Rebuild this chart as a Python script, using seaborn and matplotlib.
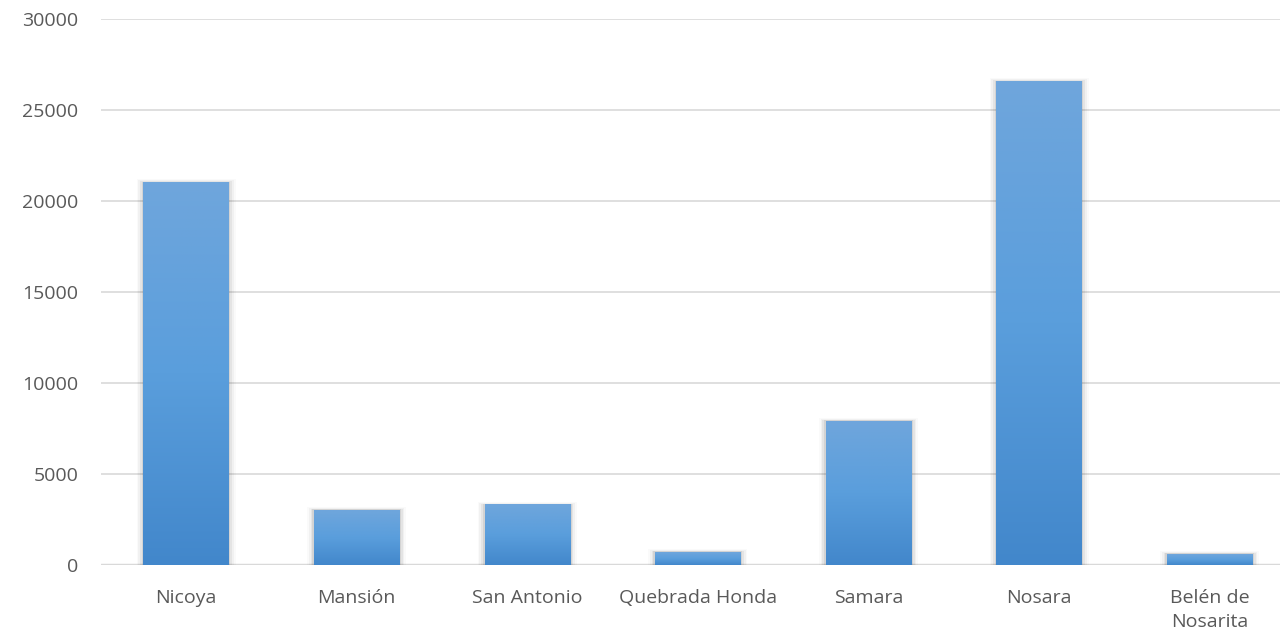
import numpy as np
import pandas as pd
import matplotlib
matplotlib.use('Agg')
import matplotlib.pyplot as plt
import seaborn as sns
from matplotlib.colors import LinearSegmentedColormap

# datos
distritos = ['Nicoya', 'Mansión', 'San Antonio', 'Quebrada Honda', 'Samara', 'Nosara', 'Belén de\nNosarita']
poblacion = [21040, 3020, 3300, 710, 7910, 26590, 600]
yticks = [0, 5000, 10000, 15000, 20000, 25000, 30000]

df = pd.DataFrame({'distrito': distritos, 'poblacion': poblacion})

sns.set_style('white')
plt.rcParams['font.family'] = ['Open Sans', 'DejaVu Sans']

fig = plt.figure(figsize=(12.8, 6.4), dpi=100)
ax = fig.add_axes([0.0787, 0.117, 0.933, 0.853])

sns.barplot(data=df, x='distrito', y='poblacion', color='#5b9bd5', width=0.5, ax=ax, zorder=3)

ax.set_ylim(0, 30000)
ax.set_xlim(-0.5, len(distritos) - 0.5)
ax.set_yticks(yticks)
ax.set_yticklabels([str(v) for v in yticks])
ax.yaxis.grid(True, color='#d9d9d9', linewidth=1.2, zorder=0)
ax.axhline(0, color='#d9d9d9', linewidth=2.5, zorder=2)
for s in ax.spines.values():
    s.set_visible(False)
ax.set_xlabel('')
ax.set_ylabel('')
ax.tick_params(axis='both', length=0, labelsize=14, labelcolor='#595959')
ax.tick_params(axis='y', pad=16)
ax.tick_params(axis='x', pad=17)
for t in ax.get_xticklabels():
    t.set_linespacing(1.45)

# degradado en las barras y sombra suave
cmap = LinearSegmentedColormap.from_list('azul', ['#4287cb', '#5a9edc', '#6fa6dc'])
grad = np.linspace(0, 1, 256).reshape(-1, 1)
for p in list(ax.patches):
    x0, y0 = p.get_x(), p.get_y()
    w, h = p.get_width(), p.get_height()
    for k, a in enumerate([0.07, 0.05, 0.035, 0.02]):
        d = 0.01 * (k + 1)
        ax.add_patch(plt.Rectangle((x0 - d, y0), w + 2 * d, h + 40 * (k + 1),
                                   color='#000000', alpha=a, lw=0, zorder=2.5))
    p.set_facecolor('none')
    p.set_edgecolor('none')
    ax.imshow(grad, extent=[x0, x0 + w, y0, y0 + h], origin='lower', cmap=cmap,
              aspect='auto', zorder=3.5)

ax.set_xlim(-0.5, len(distritos) - 0.5)
ax.set_ylim(0, 30000)

plt.savefig('out.png', dpi=100)
plt.close()
